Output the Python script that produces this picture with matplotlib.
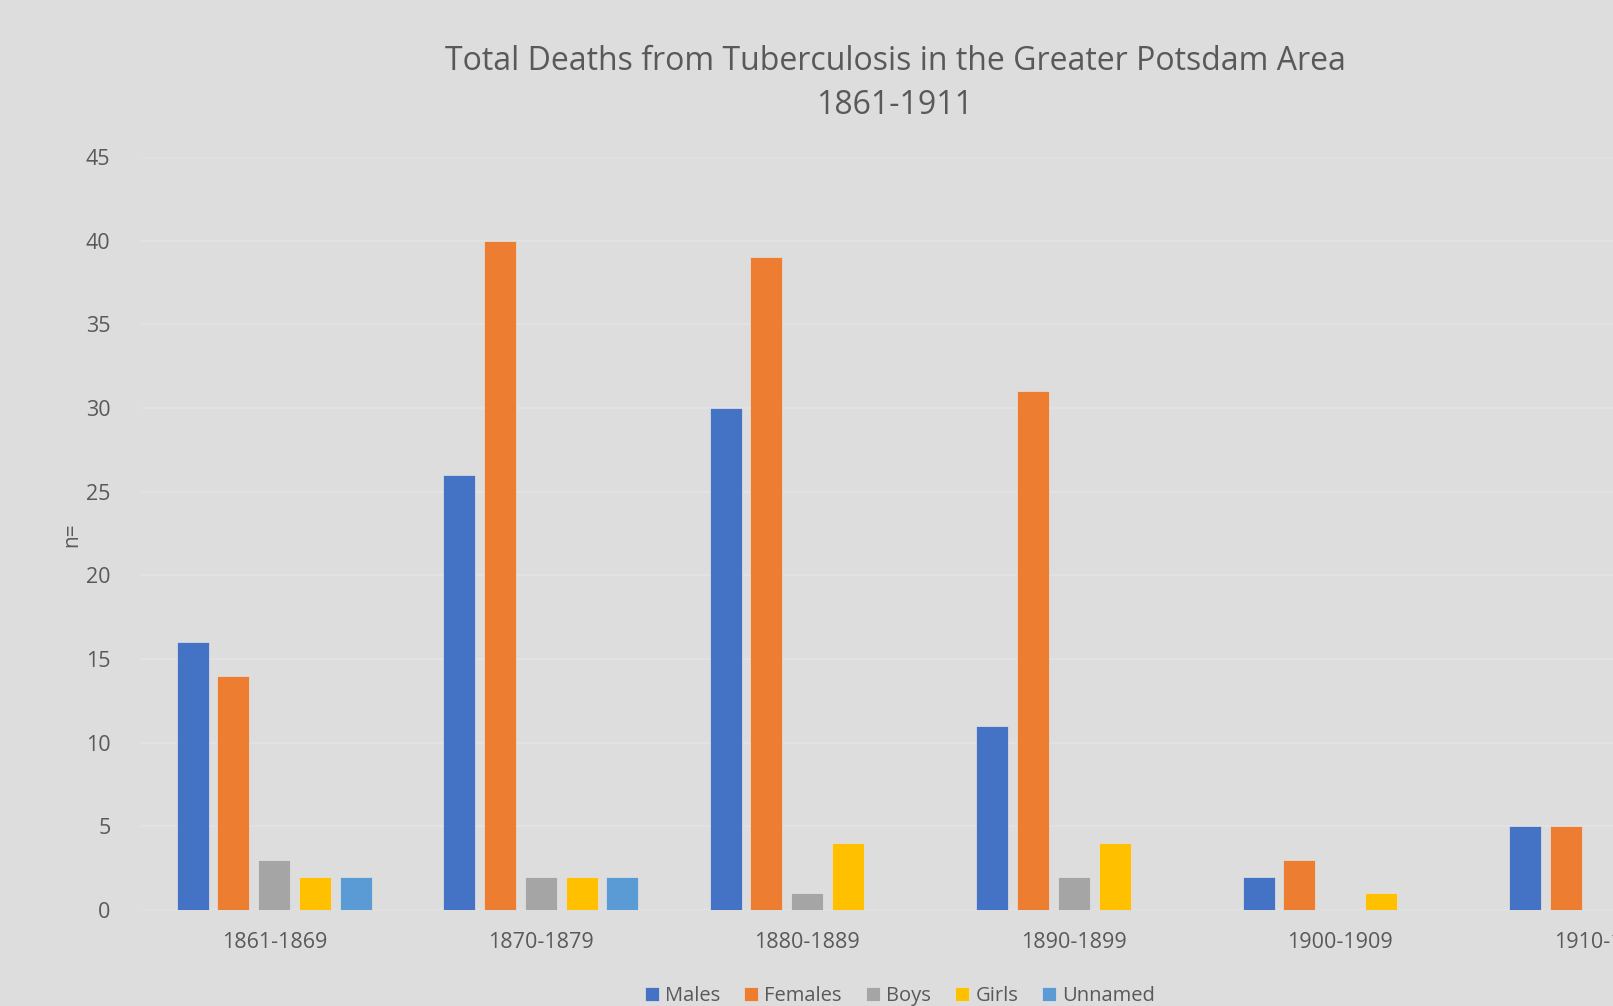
import numpy as np
import matplotlib
matplotlib.use("Agg")
import matplotlib.pyplot as plt

plt.rcParams['font.family'] = ['Open Sans', 'DejaVu Sans']

periods = ['1861-1869', '1870-1879', '1880-1889', '1890-1899', '1900-1909', '1910-1911']
males = [16, 26, 30, 11, 2, 5]
females = [14, 40, 39, 31, 3, 5]
boys = [3, 2, 1, 2, 0, 0]
girls = [2, 2, 4, 4, 1, 0]
unnamed = [2, 2, 0, 0, 0, 0]

series = [('Males', males, '#4472C4'),
          ('Females', females, '#ED7D31'),
          ('Boys', boys, '#A5A5A5'),
          ('Girls', girls, '#FFC000'),
          ('Unnamed', unnamed, '#5B9BD5')]

bg = '#DDDDDD'
txt = '#595959'

fig = plt.figure(figsize=(16.13, 10.06), dpi=100, facecolor=bg)
# axes deliberately runs past the right edge, like the cropped original
ax = fig.add_axes([141 / 1613, 96 / 1006, 1599 / 1613, 753 / 1006])
ax.set_facecolor(bg)

x = np.arange(len(periods))
step = 0.153
width = 0.12
for i, (name, vals, col) in enumerate(series):
    ax.bar(x + (i - 2) * step, vals, width, color=col, label=name,
           edgecolor='#e4e4e4', linewidth=0.5, zorder=3)

ax.set_xlim(-0.5, len(periods) - 0.5)
ax.set_ylim(0, 45)
ax.set_yticks(range(0, 46, 5))
ax.set_xticks(x)
ax.set_xticklabels(periods)
ax.grid(axis='y', color='#E4E4E4', linewidth=1.2, zorder=0)
for s in ax.spines.values():
    s.set_visible(False)
ax.tick_params(axis='both', length=0, colors=txt, labelsize=15.5)
ax.tick_params(axis='y', pad=22)
ax.tick_params(axis='x', pad=16)

fig.text(72 / 1613, 1 - 535 / 1006, 'n=', rotation=90, ha='center', va='center',
         color=txt, fontsize=15)
fig.text(895 / 1613, 1 - 61 / 1006, 'Total Deaths from Tuberculosis in the Greater Potsdam Area',
         ha='center', va='center', color=txt, fontsize=23)
fig.text(895 / 1613, 1 - 105 / 1006, '1861-1911',
         ha='center', va='center', color=txt, fontsize=23)

fig.legend(loc='center', bbox_to_anchor=(900 / 1613, 1 - 996 / 1006), ncol=5,
           frameon=False, fontsize=14.5, labelcolor=txt, handlelength=0.7,
           handleheight=0.7, handletextpad=0.3, columnspacing=1.2)

fig.savefig('out.png', dpi=100, facecolor=bg)
